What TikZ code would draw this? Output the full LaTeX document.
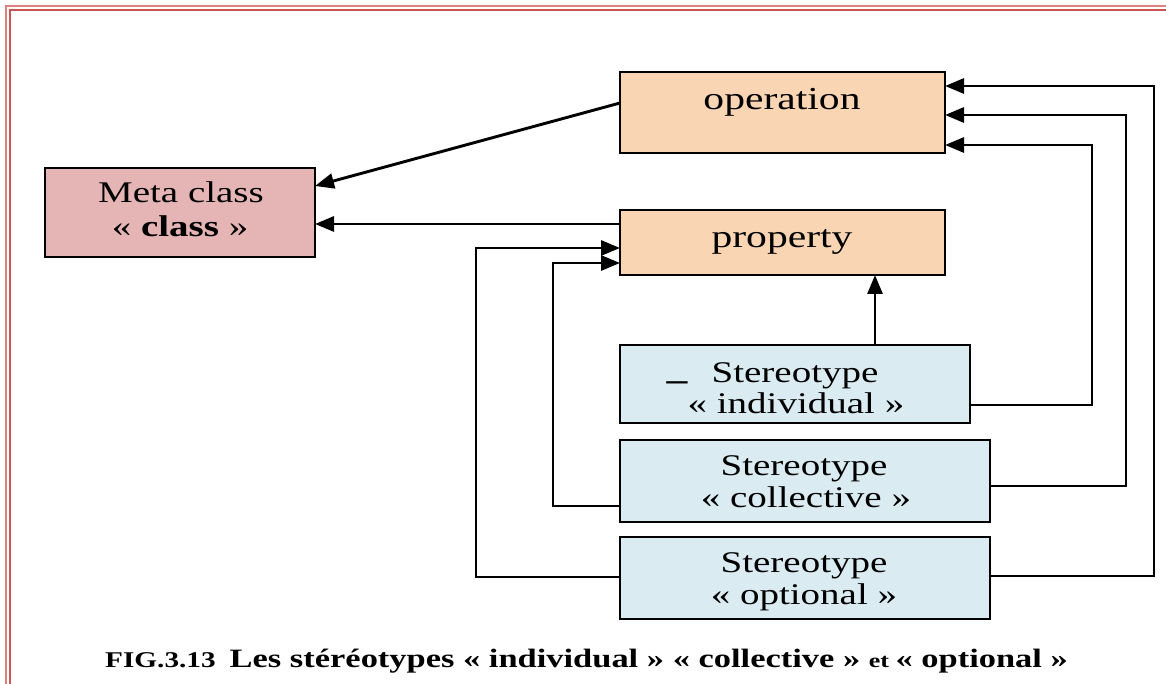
\documentclass[tikz,border=0pt]{standalone}
\usepackage{fontspec}
\setmainfont{Liberation Serif}[FakeStretch=1.3]
\usetikzlibrary{arrows.meta}
\definecolor{metafill}{RGB}{229,181,181}
\definecolor{opfill}{RGB}{250,213,180}
\definecolor{stfill}{RGB}{218,236,242}
\definecolor{frameout}{RGB}{226,128,128}
\definecolor{framein}{RGB}{206,84,84}
\newcommand{\bigtxt}{\fontsize{30}{34}\selectfont}
\newcommand{\headtxt}{\fontsize{32}{36}\selectfont}
\newcommand{\capbig}{\fontsize{26.5}{32}\selectfont}
\newcommand{\capsmall}{\fontsize{20}{24}\selectfont}
\begin{document}
\begin{tikzpicture}[x=1pt,y=-1pt,
  box/.style={draw=black, line width=2.9pt, anchor=north west, inner sep=0pt, outer sep=0pt},
  txt/.style={anchor=base, inner sep=0pt, font=\bigtxt},
  link/.style={line width=2.9pt, -{Triangle[length=19pt,width=15pt]}}]
\useasboundingbox (0,0) rectangle (1166,684);
% double page frame
\begin{scope}
  \clip (0,0) rectangle (1166,684);
  \draw[frameout, line width=1.2pt] (6,700) -- (6,6) -- (1180,6);
  \draw[framein, line width=2.2pt] (10,700) -- (10,10) -- (1180,10);
\end{scope}
% boxes
\node[box, fill=metafill, minimum width=270pt, minimum height=89pt] (meta) at (45,168) {};
\node[box, fill=opfill, minimum width=325pt, minimum height=81pt] (op) at (620,72) {};
\node[box, fill=opfill, minimum width=325pt, minimum height=65pt] (prop) at (620,210) {};
\node[box, fill=stfill, minimum width=350pt, minimum height=78pt] (ind) at (620,345) {};
\node[box, fill=stfill, minimum width=370pt, minimum height=82pt] (col) at (620,440) {};
\node[box, fill=stfill, minimum width=370pt, minimum height=82pt] (opt) at (620,537) {};
% labels
\node[txt] (meta-a) at (181,203) {Meta class};
\node[txt] (meta-b) at (180,237) {« \textbf{class} »};
\node[txt, font=\headtxt] (op-t) at (782,110) {operation};
\node[txt, font=\headtxt] (prop-t) at (782,248) {property};
\node[txt] (ind-a) at (795,382) {Stereotype};
\node[txt] (ind-b) at (796,413) {« individual »};
\node[txt, font=\headtxt\bfseries] (ind-d) at (677,379) {\_};
\node[txt] (col-a) at (804,475) {Stereotype};
\node[txt] (col-b) at (806,507) {« collective »};
\node[txt] (opt-a) at (804,572) {Stereotype};
\node[txt] (opt-b) at (804,604) {« optional »};
\node[anchor=base west, inner sep=0pt, font=\bfseries] (cap) at (105,667)
  {{\fontsize{22.5}{26}\selectfont FIG.3.13}\hspace{14pt}{\capbig Les stéréotypes « individual » « collective » }{\capsmall et }{\capbig « optional »}};
% associations towards the meta class
\draw[link] ([yshift=9.5pt]op.west) -- ([yshift=26.5pt]meta.east);
\draw[link] ([yshift=18.5pt]prop.west) -- ([yshift=18.5pt]prop.west -| meta.east);
\draw[link] ([xshift=80pt]ind.north) -- ([xshift=80pt]ind.north |- prop.south);
% stereotypes to operation
\draw[link] ([yshift=-21pt]ind.east) -- ++(122,0) |- ([yshift=-32.5pt]op.east);
\draw[link] ([yshift=-5pt]col.east) -- ++(136,0) |- ([yshift=-2.5pt]op.east);
\draw[link] ([yshift=2pt]opt.east) -- ++(164,0) |- ([yshift=26.5pt]op.east);
% stereotypes to property
\draw[link] ([yshift=-25pt]col.west) -- ++(-67,0) |- ([yshift=-20.5pt]prop.west);
\draw[link] ([yshift=1pt]opt.west) -- ++(-144,0) |- ([yshift=-5.5pt]prop.west);
\end{tikzpicture}
\end{document}
